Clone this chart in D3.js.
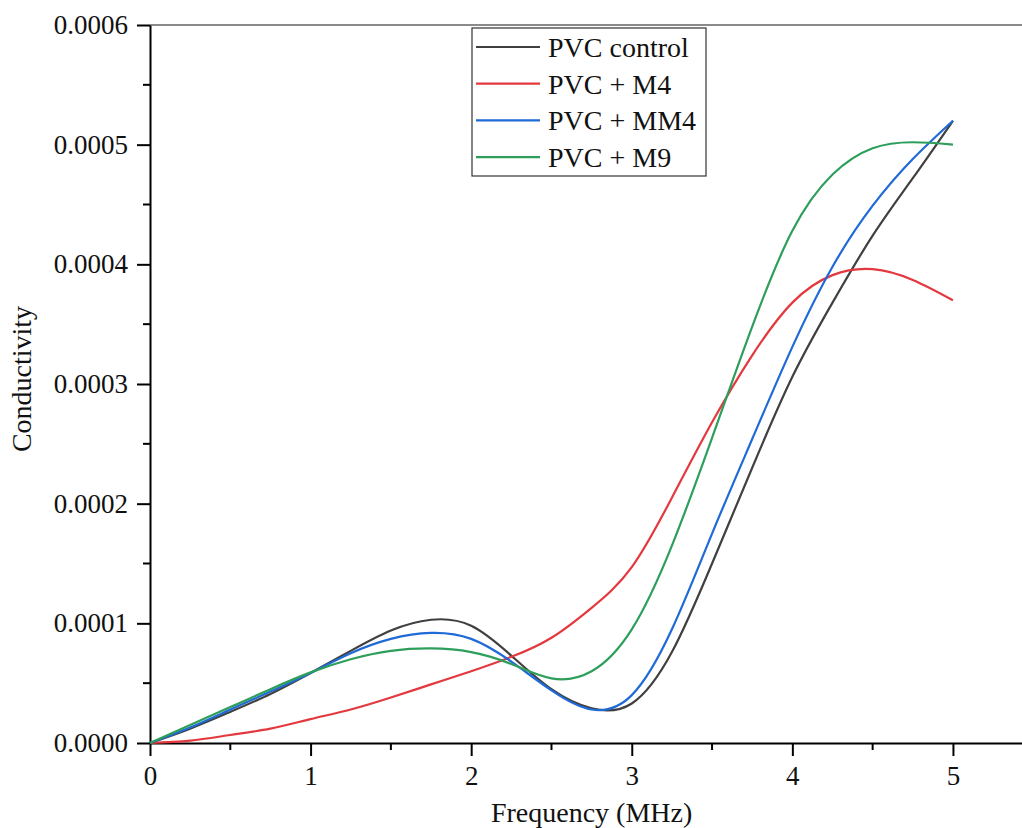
<!DOCTYPE html>
<html>
<head>
<meta charset="utf-8">
<script src="https://cdn.jsdelivr.net/npm/d3@7"></script>
<style>
  body { margin: 0; background: #fff; }
  text { font-family: "Liberation Serif", "Times New Roman", serif; }
</style>
</head>
<body>
<div id="chart"></div>
<script>
// frequency values (MHz)
var freq = [0, 0.25, 0.5, 0.75, 1, 1.25, 1.5, 1.75, 2, 2.25, 2.5, 2.75, 3, 3.25, 3.5, 3.75, 4, 4.25, 4.5, 4.75, 5];

// conductivity series
var pvcControl = [0, 0.000012, 0.000026, 0.000041, 0.0000585, 0.000077, 0.000094, 0.000103, 0.000098, 0.000073, 0.000045, 0.000029, 0.000033, 0.000076, 0.00015, 0.00023, 0.000306, 0.000368, 0.000424, 0.000472, 0.00052];
var pvcM4 = [0, 0.000002, 0.0000067, 0.000012, 0.00002, 0.000028, 0.000038, 0.000049, 0.00006, 0.000072, 0.000088, 0.000113, 0.000147, 0.000205, 0.000268, 0.000324, 0.000368, 0.000391, 0.000396, 0.000387, 0.00037];
var pvcMM4 = [0, 0.000013, 0.000028, 0.000043, 0.0000585, 0.000075, 0.000087, 0.000092, 0.000087, 0.000068, 0.000044, 0.000028, 0.00004, 0.000095, 0.000175, 0.000254, 0.000331, 0.000398, 0.000449, 0.000488, 0.00052];
var pvcM9 = [0, 0.000015, 0.00003, 0.000045, 0.000059, 0.00007, 0.000077, 0.000079, 0.000076, 0.000066, 0.000054, 0.00006, 0.000095, 0.000165, 0.000255, 0.000348, 0.000428, 0.000475, 0.000497, 0.000502, 0.0005];

var seriesNames = ["PVC control", "PVC + M4", "PVC + MM4", "PVC + M9"];
var seriesColors = ["#404040", "#e3383e", "#1f6ad6", "#2e9e5b"];
var xTicks = [0, 1, 2, 3, 4, 5];
var yTicks = [0, 0.0001, 0.0002, 0.0003, 0.0004, 0.0005, 0.0006];

var W = 1022, H = 828;
var margin = {left: 150, top: 25, right: 0, bottom: 85};
var w = W - margin.left - margin.right,
    h = H - margin.top - margin.bottom;

var svg = d3.select("#chart")
  .append("svg")
  .attr("width", W)
  .attr("height", H);

var chart = svg.append("g")
  .attr("transform", "translate(" + margin.left + "," + margin.top + ")");

var x = d3.scaleLinear().domain([0, 5.43]).range([0, w]);
var y = d3.scaleLinear().domain([0, 0.0006]).range([h, 0]);

// top frame line
chart.append("line")
  .attr("x1", 0).attr("x2", w)
  .attr("y1", 0).attr("y2", 0)
  .attr("stroke", "#8a8a8a")
  .attr("stroke-width", 2);

// minor ticks
var xMinor = d3.range(0.5, 5.43, 1);
var yMinor = d3.range(0.00005, 0.0006, 0.0001);

var xAxis = chart.append("g")
  .attr("transform", "translate(0," + h + ")")
  .call(d3.axisBottom(x).tickValues(xTicks).tickFormat(d3.format("d")).tickSize(13).tickPadding(10).tickSizeOuter(0));
xAxis.append("g").selectAll("line")
  .data(xMinor).enter().append("line")
  .attr("x1", function(d) { return x(d); })
  .attr("x2", function(d) { return x(d); })
  .attr("y1", 0).attr("y2", 7)
  .attr("stroke", "#000").attr("stroke-width", 2);

var yAxis = chart.append("g")
  .call(d3.axisLeft(y).tickValues(yTicks).tickFormat(d3.format(".4f")).tickSize(13).tickPadding(9).tickSizeOuter(0));
yAxis.append("g").selectAll("line")
  .data(yMinor).enter().append("line")
  .attr("x1", 0).attr("x2", -7)
  .attr("y1", function(d) { return y(d); })
  .attr("y2", function(d) { return y(d); })
  .attr("stroke", "#000").attr("stroke-width", 2);

[xAxis, yAxis].forEach(function(a) {
  a.select(".domain").attr("stroke", "#000").attr("stroke-width", 2);
  a.selectAll(".tick line").attr("stroke", "#000").attr("stroke-width", 2);
  a.selectAll(".tick text")
    .attr("fill", "#111")
    .attr("font-family", "Liberation Serif")
    .attr("font-size", "27px");
});

// axis titles
chart.append("text")
  .attr("text-anchor", "middle")
  .attr("x", x(2.75))
  .attr("y", h + 79)
  .attr("font-size", "28px")
  .attr("fill", "#111")
  .text("Frequency (MHz)");

chart.append("text")
  .attr("text-anchor", "middle")
  .attr("transform", "translate(-119," + (h / 2 - 5) + ") rotate(-90)")
  .attr("font-size", "28px")
  .attr("fill", "#111")
  .text("Conductivity");

// lines
var allSeries = [pvcControl, pvcM4, pvcMM4, pvcM9];
var line = d3.line()
  .x(function(d, i) { return x(freq[i]); })
  .y(function(d) { return y(d); })
  .curve(d3.curveNatural);

chart.selectAll(".series")
  .data(allSeries)
  .enter()
  .append("path")
  .attr("class", "series")
  .attr("d", line)
  .attr("fill", "none")
  .attr("stroke", function(d, i) { return seriesColors[i]; })
  .attr("stroke-width", 2.2);

// legend
var legend = svg.append("g").attr("transform", "translate(472,28)");
legend.append("rect")
  .attr("width", 234).attr("height", 148)
  .attr("fill", "#fff")
  .attr("stroke", "#333").attr("stroke-width", 1.2);
var rows = legend.selectAll(".row")
  .data(seriesNames).enter().append("g")
  .attr("transform", function(d, i) { return "translate(0," + (19 + i * 36.7) + ")"; });
rows.append("line")
  .attr("x1", 4).attr("x2", 68)
  .attr("stroke", function(d, i) { return seriesColors[i]; })
  .attr("stroke-width", 2.2);
rows.append("text")
  .attr("x", 76).attr("y", 10)
  .attr("font-size", "28px")
  .attr("fill", "#111")
  .text(function(d) { return d; });
</script>
</body>
</html>
